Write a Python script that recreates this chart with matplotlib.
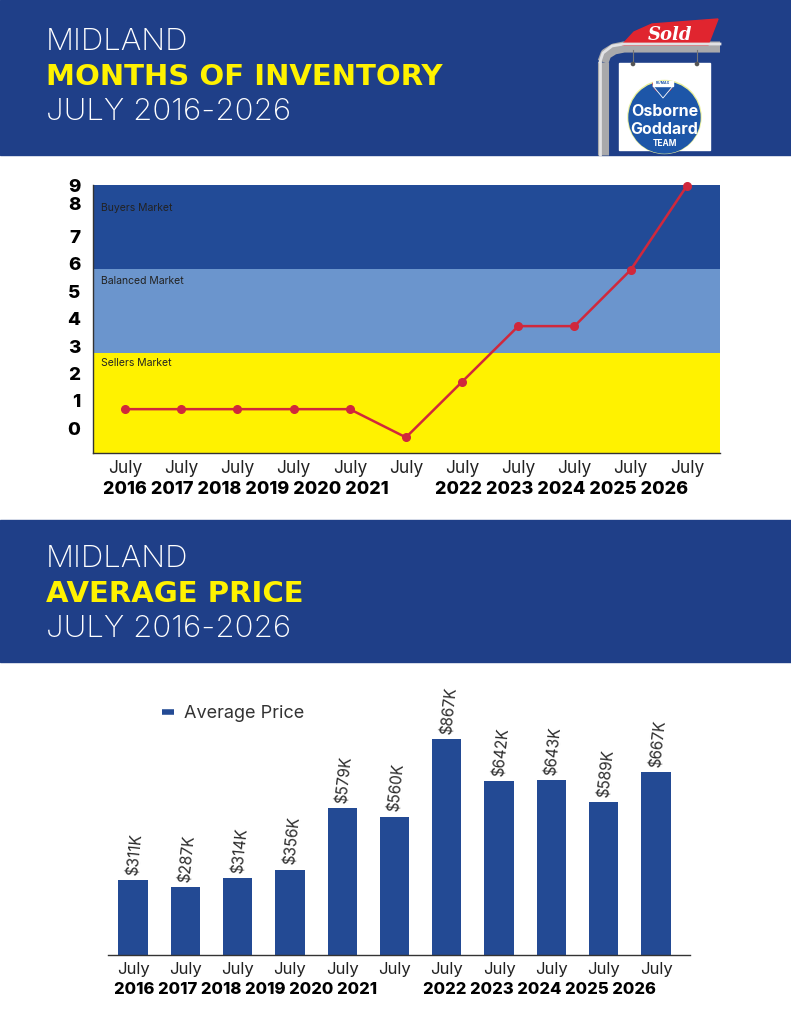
import matplotlib
matplotlib.use('Agg')
import matplotlib.pyplot as plt
from matplotlib.patches import Rectangle, Circle, Polygon, Wedge
from matplotlib.lines import Line2D

# ---------------- data ----------------
years = ['2016', '2017', '2018', '2019', '2020', '2021',
         '2022', '2023', '2024', '2025', '2026']
month_label = 'July'
inventory_months = [0.7, 0.7, 0.7, 0.7, 0.7, -0.33, 1.7, 3.73, 3.73, 5.78, 8.85]
band_names = ['Sellers Market', 'Balanced Market', 'Buyers Market']
band_edges = [-0.9, 2.76, 5.8, 8.88]
inv_tick_labels = ['0', '1', '2', '3', '4', '5', '6', '7', '8', '9']
# bar heights as drawn in the picture (thousands of $)
avg_price_bar_k = [301, 272, 308, 342, 590, 555, 867, 697, 701, 614, 734]
# value labels as printed above the bars
price_labels = ['$311K', '$287K', '$314K', '$356K', '$579K', '$560K',
                '$867K', '$642K', '$643K', '$589K', '$667K']

FONT = ['Inter', 'DejaVu Sans']
plt.rcParams['font.family'] = FONT

HEADER_BLUE = '#1f3f88'
BUYERS = '#224b97'
BALANCED = '#6b95cd'
SELLERS = '#fff200'
LINE_RED = '#d0283c'
BAR_BLUE = '#234a94'
YELLOW_TXT = '#fff200'

W, H = 791, 1024
fig = plt.figure(figsize=(W / 100, H / 100), dpi=100)
fig.patch.set_facecolor('white')

# background / overlay axes in pixel coordinates (y down)
bg = fig.add_axes([0, 0, 1, 1])
bg.set_xlim(0, W)
bg.set_ylim(H, 0)
bg.axis('off')

# header bands
bg.add_patch(Rectangle((0, 0), W, 155, color=HEADER_BLUE, zorder=0))
bg.add_patch(Rectangle((0, 520), W, 142, color=HEADER_BLUE, zorder=0))

def header(y0, line2):
    bg.text(46, y0 + 50, 'MIDLAND', color='white', fontsize=22.5, fontweight='light',
            va='baseline', ha='left')
    bg.text(46, y0 + 85, line2, color=YELLOW_TXT, fontsize=21, fontweight='bold',
            family='DejaVu Sans', va='baseline', ha='left')
    bg.text(46, y0 + 120, 'JULY 2016-2026', color='white', fontsize=22.5, fontweight='light',
            va='baseline', ha='left')

header(0, 'MONTHS OF INVENTORY')
header(517, 'AVERAGE PRICE')

# ---- logo (sold sign) ----
bg.plot([603, 603], [155, 62], color='#a9a9ab', lw=8, solid_capstyle='butt', zorder=2)
bg.plot([603, 606, 614, 624, 720], [62, 54, 49, 47, 47], color='#a9a9ab', lw=8,
        solid_capstyle='butt', zorder=2)
bg.plot([600, 600], [155, 62], color='#e2e2e4', lw=2, zorder=3)
bg.plot([600, 603, 612, 624, 720], [62, 53, 46, 44, 44], color='#e2e2e4', lw=2, zorder=3)
bg.add_patch(Polygon([(622, 45), (634, 32), (652, 24), (718, 19), (708, 45)],
                     closed=True, color='#e0252f', zorder=2))
bg.text(670, 35, 'Sold', color='white', fontsize=13, fontweight='bold', style='italic',
        family='DejaVu Serif', ha='center', va='center', zorder=4)
bg.add_patch(Rectangle((619, 63), 91, 87, color='white', zorder=3))
for hx in (633, 697):
    bg.plot([hx, hx], [50, 64], color='#777777', lw=0.8, zorder=3)
    bg.add_patch(Circle((hx, 64), 1.6, color='#555555', zorder=4))
bg.add_patch(Circle((664.5, 117), 36.5, color='#e9ef9a', zorder=4))
bg.add_patch(Circle((664.5, 117.5), 35.5, color='#1d56a8', zorder=4))
bg.add_patch(Wedge((663, 83), 10, 0, 180, color='#d9262e', zorder=5))
bg.add_patch(Rectangle((653, 81), 20, 5, color='white', zorder=6))
bg.add_patch(Polygon([(653, 86), (673, 86), (663, 98)], closed=True, color='#1d56a8', zorder=5))
bg.plot([653, 663, 673], [86, 98, 86], color='white', lw=0.6, zorder=6)
bg.text(663, 83.5, 'RE/MAX', fontsize=2.5, color='#1d56a8', ha='center', va='center',
        fontweight='bold', zorder=7)
bg.text(664.5, 111, 'Osborne', color='white', fontsize=11.5, fontweight='bold',
        ha='center', va='center', zorder=6)
bg.text(664.5, 129, 'Goddard', color='white', fontsize=11.5, fontweight='bold',
        ha='center', va='center', zorder=6)
bg.text(664.5, 143, 'TEAM', color='white', fontsize=6, fontweight='bold',
        ha='center', va='center', zorder=6)

# ---------------- top chart: months of inventory ----------------
x = list(range(len(years)))
ax1 = fig.add_axes([93 / W, 1 - 453 / H, (720 - 93) / W, (453 - 185) / H])
band_colors = [SELLERS, BALANCED, BUYERS]
for i, name in enumerate(band_names):
    ax1.axhspan(band_edges[i], band_edges[i + 1], color=band_colors[i], zorder=0, lw=0)
band_label_y = [2.38, 5.38, 8.04]
for name, yy in zip(band_names, band_label_y):
    ax1.text(0.013, yy, name, transform=ax1.get_yaxis_transform(), fontsize=7.5,
             color='#222222', va='center', ha='left', zorder=2)
ax1.plot(x, inventory_months, color=LINE_RED, lw=1.8, marker='o', markersize=5.5,
         zorder=3, clip_on=False)
ax1.set_xlim(-0.57, 10.59)
ax1.set_ylim(band_edges[0], band_edges[-1])
ax1.set_yticks([0, 1, 2, 3, 4, 5, 6, 7, 8.21, 8.88])
ax1.set_yticklabels(inv_tick_labels, fontsize=13.5, fontweight='heavy', color='black')
ax1.set_xticks(x)
ax1.set_xticklabels([month_label] * len(years), fontsize=12.5, color='#222222')
ax1.tick_params(axis='both', length=0)
ax1.tick_params(axis='y', pad=9)
ax1.tick_params(axis='x', pad=5)
for s in ('top', 'right'):
    ax1.spines[s].set_visible(False)
for s in ('left', 'bottom'):
    ax1.spines[s].set_color('#333333')
    ax1.spines[s].set_linewidth(1.0)

bg.text(103, 490, ' '.join(years[:6]), fontsize=13, fontweight='heavy', color='black',
        ha='left', va='center')
bg.text(435, 490, ' '.join(years[6:]), fontsize=13, fontweight='heavy', color='black',
        ha='left', va='center')

# ---------------- bottom chart: average price ----------------
ax2 = fig.add_axes([108 / W, 1 - 955 / H, (690 - 108) / W, (955 - 690) / H])
bars = ax2.bar(x, avg_price_bar_k, width=0.56, color=BAR_BLUE, zorder=2)
for xi, v, lab in zip(x, avg_price_bar_k, price_labels):
    ax2.text(xi, v + 20, lab, rotation=84, rotation_mode='anchor', ha='left', va='center',
             fontsize=11, color='#2a2a2a')
ax2.set_xlim(-0.48, 10.65)
ax2.set_ylim(0, 1064)
ax2.set_yticks([])
ax2.set_xticks(x)
ax2.set_xticklabels([month_label] * len(years), fontsize=12, color='#222222')
ax2.tick_params(axis='x', length=0, pad=5)
for s in ('top', 'right', 'left'):
    ax2.spines[s].set_visible(False)
ax2.spines['bottom'].set_color('#333333')
ax2.spines['bottom'].set_linewidth(1.0)
ax2.patch.set_alpha(0)
ax2.legend(handles=[Line2D([0], [0], color=BAR_BLUE, lw=4, solid_capstyle='butt')],
           labels=['Average Price'], loc='center left', bbox_to_anchor=(0.065, 0.91),
           frameon=False, handlelength=0.65, handletextpad=0.55, fontsize=13,
           labelcolor='#333333')

bg.text(114, 990, ' '.join(years[:6]), fontsize=12, fontweight='heavy', color='black',
        ha='left', va='center')
bg.text(423, 990, ' '.join(years[6:]), fontsize=12, fontweight='heavy', color='black',
        ha='left', va='center')

fig.savefig('out.png', dpi=100, facecolor='white')
